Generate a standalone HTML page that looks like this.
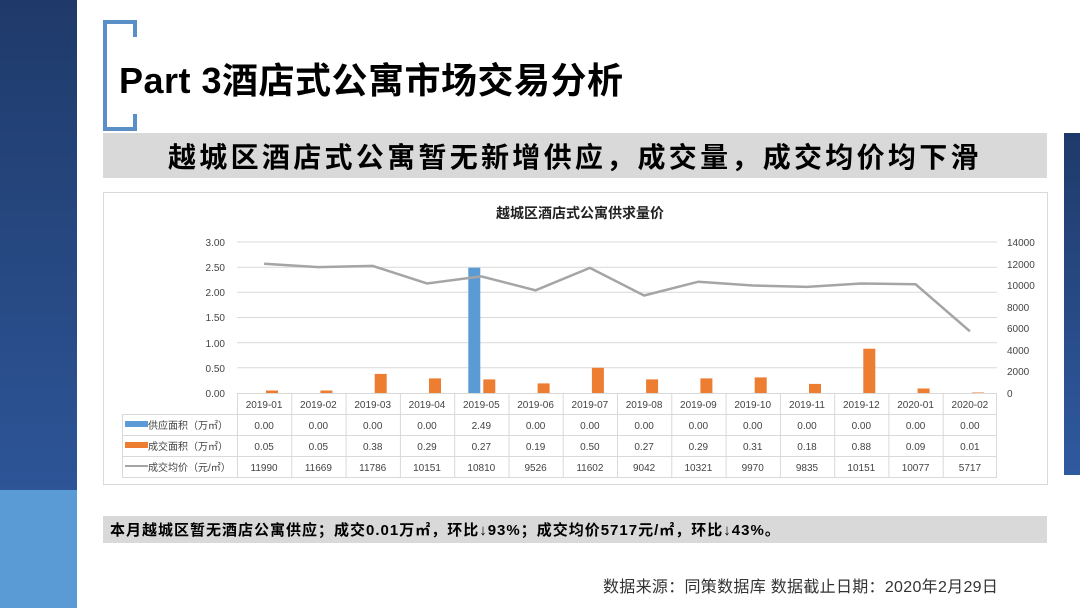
<!DOCTYPE html>
<html><head><meta charset="utf-8"><style>
html,body{margin:0;padding:0;width:1080px;height:608px;overflow:hidden;background:#fff}
svg{display:block}
.cj{font-family:"Liberation Sans","Noto Sans CJK SC",sans-serif}
</style></head><body>
<svg width="1080" height="608" viewBox="0 0 1080 608" class="cj">
<defs><linearGradient id="lg" x1="0" y1="0" x2="0" y2="1"><stop offset="0" stop-color="#1f3a6a"/><stop offset="1" stop-color="#2d5597"/></linearGradient>
<linearGradient id="rg" x1="0" y1="0" x2="0" y2="1"><stop offset="0" stop-color="#1f3a6a"/><stop offset="1" stop-color="#2f5aa0"/></linearGradient></defs>
<rect x="0" y="0" width="77" height="490" fill="url(#lg)"/>
<rect x="0" y="490" width="77" height="118" fill="#5b9bd5"/>
<rect x="1064" y="133" width="16" height="342" fill="url(#rg)"/>
<path d="M135 22 H105 V129 H135 M135 20 V37 M135 114 V131" fill="none" stroke="#5b8fc8" stroke-width="4"/>
<text x="119" y="93" font-size="36" font-weight="bold" fill="#000" letter-spacing="0.5">Part 3酒店式公寓市场交易分析</text>
<rect x="103" y="133" width="944" height="45" fill="#d9d9d9"/>
<text x="168" y="167" font-size="28" font-weight="bold" fill="#000" letter-spacing="3.3">越城区酒店式公寓暂无新增供应，成交量，成交均价均下滑</text>
<rect x="103.5" y="192.5" width="944" height="292" fill="#fff" stroke="#d9d9d9"/>
<text x="580" y="218" font-size="14" font-weight="bold" text-anchor="middle" fill="#222">越城区酒店式公寓供求量价</text>
<g stroke="#d9d9d9" stroke-width="1">
<line x1="237" x2="997" y1="242" y2="242"/><line x1="237" x2="997" y1="267.2" y2="267.2"/>
<line x1="237" x2="997" y1="292.3" y2="292.3"/><line x1="237" x2="997" y1="317.5" y2="317.5"/>
<line x1="237" x2="997" y1="342.7" y2="342.7"/><line x1="237" x2="997" y1="367.8" y2="367.8"/>
</g>
<g font-size="10" fill="#444" text-anchor="end">
<text x="225" y="246">3.00</text><text x="225" y="271">2.50</text><text x="225" y="296">2.00</text>
<text x="225" y="321">1.50</text><text x="225" y="347">1.00</text><text x="225" y="372">0.50</text><text x="225" y="397">0.00</text>
</g>
<g font-size="10" fill="#444">
<text x="1007" y="246">14000</text><text x="1007" y="268">12000</text><text x="1007" y="289">10000</text>
<text x="1007" y="311">8000</text><text x="1007" y="332">6000</text><text x="1007" y="354">4000</text>
<text x="1007" y="375">2000</text><text x="1007" y="397">0</text>
</g>
<rect x="468.3" y="267.7" width="12" height="125.3" fill="#5b9bd5"/>
<g fill="#ed7d31">
<rect x="266" y="390.5" width="12" height="2.5"/><rect x="320.4" y="390.5" width="12" height="2.5"/>
<rect x="374.7" y="373.9" width="12" height="19.1"/><rect x="429" y="378.4" width="12" height="14.6"/>
<rect x="483.3" y="379.4" width="12" height="13.6"/><rect x="537.6" y="383.4" width="12" height="9.6"/>
<rect x="591.9" y="367.8" width="12" height="25.2"/><rect x="646.1" y="379.4" width="12" height="13.6"/>
<rect x="700.4" y="378.4" width="12" height="14.6"/><rect x="754.7" y="377.4" width="12" height="15.6"/>
<rect x="809" y="383.9" width="12" height="9.1"/><rect x="863.3" y="348.7" width="12" height="44.3"/>
<rect x="917.6" y="388.5" width="12" height="4.5"/><rect x="971.9" y="392.5" width="12" height="0.5"/>
</g>
<polyline fill="none" stroke="#a5a5a5" stroke-width="2.5" points="264.1,263.7 318.4,267.1 372.7,265.9 427,283.5 481.3,276.4 535.6,290.3 589.9,267.9 644.1,295.5 698.4,281.7 752.7,285.5 807,286.9 861.3,283.5 915.6,284.3 969.9,331.3"/>
<g stroke="#d9d9d9" stroke-width="1">
<line x1="237" x2="997" y1="393.5" y2="393.5"/>
<line x1="122" x2="997" y1="414.5" y2="414.5"/><line x1="122" x2="997" y1="435.5" y2="435.5"/>
<line x1="122" x2="997" y1="456.5" y2="456.5"/><line x1="122" x2="997" y1="477.5" y2="477.5"/>
<line x1="122.5" x2="122.5" y1="414" y2="478"/>
<line x1="237.5" x2="237.5" y1="393" y2="478"/><line x1="291.8" x2="291.8" y1="393" y2="478"/>
<line x1="346.1" x2="346.1" y1="393" y2="478"/><line x1="400.4" x2="400.4" y1="393" y2="478"/>
<line x1="454.7" x2="454.7" y1="393" y2="478"/><line x1="509" x2="509" y1="393" y2="478"/>
<line x1="563.2" x2="563.2" y1="393" y2="478"/><line x1="617.5" x2="617.5" y1="393" y2="478"/>
<line x1="671.8" x2="671.8" y1="393" y2="478"/><line x1="726.1" x2="726.1" y1="393" y2="478"/>
<line x1="780.4" x2="780.4" y1="393" y2="478"/><line x1="834.7" x2="834.7" y1="393" y2="478"/>
<line x1="888.9" x2="888.9" y1="393" y2="478"/><line x1="943.2" x2="943.2" y1="393" y2="478"/>
<line x1="996.5" x2="996.5" y1="393" y2="478"/>
</g>
<rect x="125" y="421" width="23" height="6" fill="#5b9bd5"/>
<rect x="125" y="442" width="23" height="6" fill="#ed7d31"/>
<line x1="125" x2="148" y1="466" y2="466" stroke="#a5a5a5" stroke-width="2"/>
<g font-size="10" fill="#444">
<text x="148" y="429">供应面积（万㎡）</text><text x="148" y="450">成交面积（万㎡）</text><text x="148" y="471">成交均价（元/㎡）</text>
</g>
<g font-size="10" fill="#444" text-anchor="middle">
<text y="408"><tspan x="264.1">2019-01</tspan><tspan x="318.4">2019-02</tspan><tspan x="372.7">2019-03</tspan><tspan x="427">2019-04</tspan><tspan x="481.3">2019-05</tspan><tspan x="535.6">2019-06</tspan><tspan x="589.9">2019-07</tspan><tspan x="644.1">2019-08</tspan><tspan x="698.4">2019-09</tspan><tspan x="752.7">2019-10</tspan><tspan x="807">2019-11</tspan><tspan x="861.3">2019-12</tspan><tspan x="915.6">2020-01</tspan><tspan x="969.9">2020-02</tspan></text>
<text y="429"><tspan x="264.1">0.00</tspan><tspan x="318.4">0.00</tspan><tspan x="372.7">0.00</tspan><tspan x="427">0.00</tspan><tspan x="481.3">2.49</tspan><tspan x="535.6">0.00</tspan><tspan x="589.9">0.00</tspan><tspan x="644.1">0.00</tspan><tspan x="698.4">0.00</tspan><tspan x="752.7">0.00</tspan><tspan x="807">0.00</tspan><tspan x="861.3">0.00</tspan><tspan x="915.6">0.00</tspan><tspan x="969.9">0.00</tspan></text>
<text y="450"><tspan x="264.1">0.05</tspan><tspan x="318.4">0.05</tspan><tspan x="372.7">0.38</tspan><tspan x="427">0.29</tspan><tspan x="481.3">0.27</tspan><tspan x="535.6">0.19</tspan><tspan x="589.9">0.50</tspan><tspan x="644.1">0.27</tspan><tspan x="698.4">0.29</tspan><tspan x="752.7">0.31</tspan><tspan x="807">0.18</tspan><tspan x="861.3">0.88</tspan><tspan x="915.6">0.09</tspan><tspan x="969.9">0.01</tspan></text>
<text y="471"><tspan x="264.1">11990</tspan><tspan x="318.4">11669</tspan><tspan x="372.7">11786</tspan><tspan x="427">10151</tspan><tspan x="481.3">10810</tspan><tspan x="535.6">9526</tspan><tspan x="589.9">11602</tspan><tspan x="644.1">9042</tspan><tspan x="698.4">10321</tspan><tspan x="752.7">9970</tspan><tspan x="807">9835</tspan><tspan x="861.3">10151</tspan><tspan x="915.6">10077</tspan><tspan x="969.9">5717</tspan></text>
</g>
<rect x="103" y="516" width="944" height="27" fill="#d9d9d9"/>
<text x="110" y="535" font-size="15" font-weight="bold" fill="#000" letter-spacing="1">本月越城区暂无酒店公寓供应；成交0.01万㎡，环比↓93%；成交均价5717元/㎡，环比↓43%。</text>
<text x="603" y="592" font-size="16" fill="#333" letter-spacing="0.3">数据来源：同策数据库  数据截止日期：2020年2月29日</text>
</svg>
</body></html>
